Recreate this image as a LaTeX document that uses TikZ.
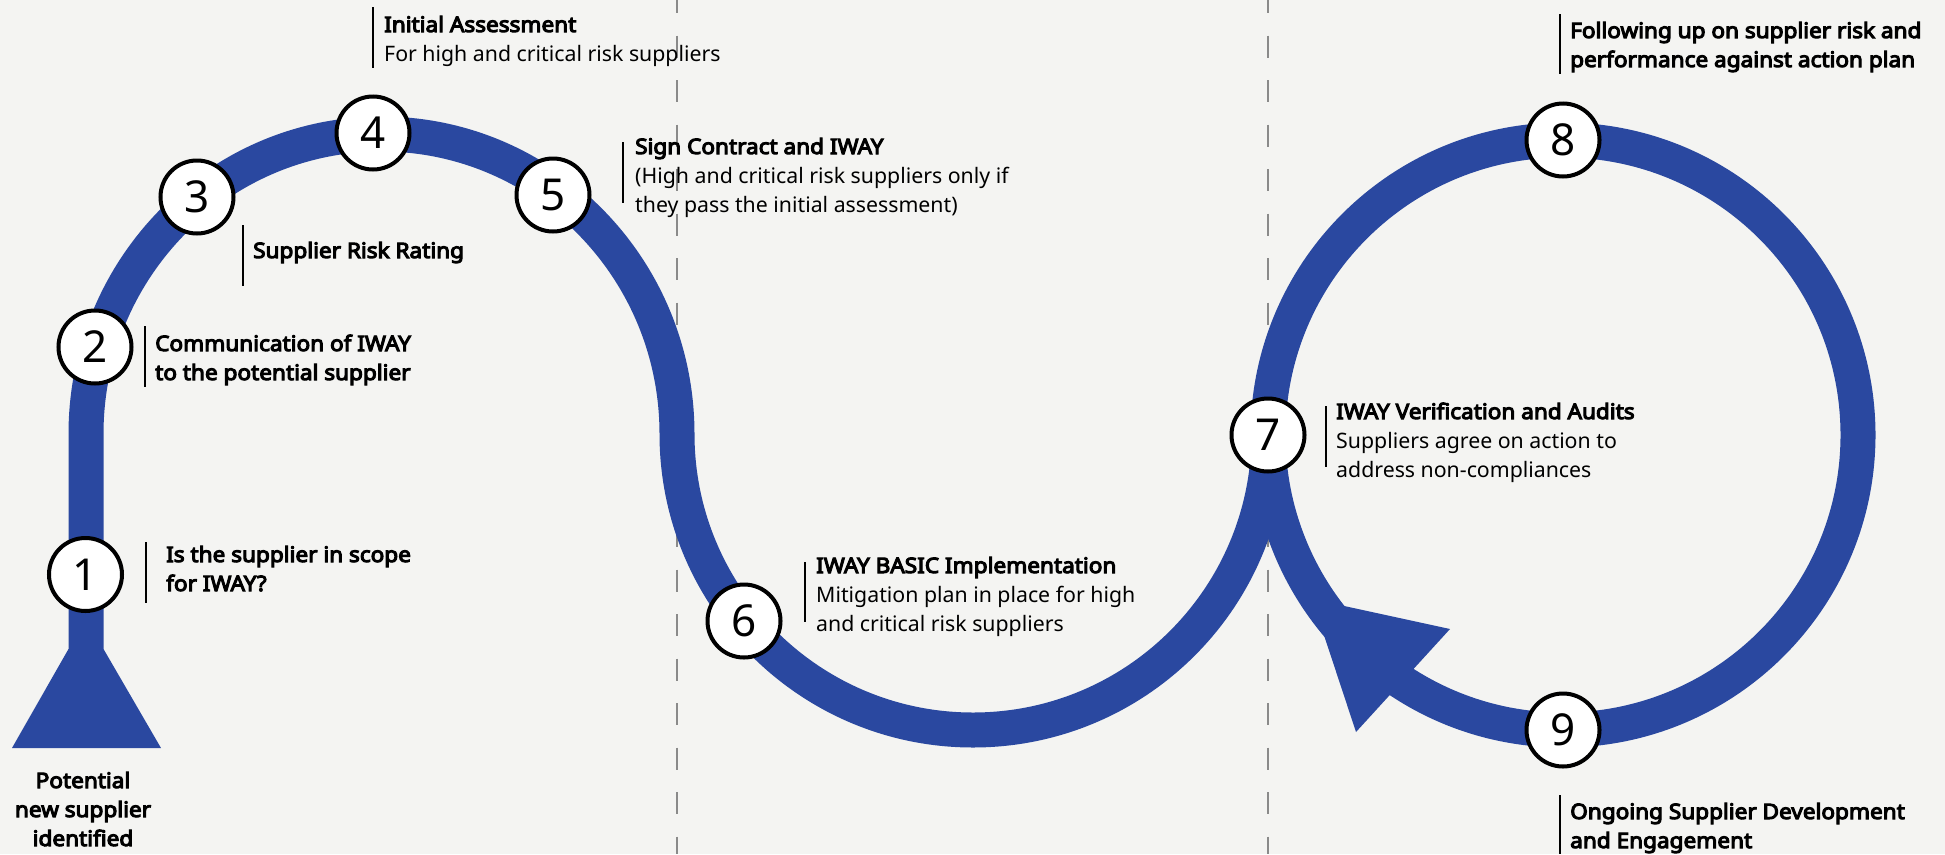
\documentclass[tikz,border=0pt]{standalone}
\usepackage{fontspec}
\setmainfont{Noto Sans}[BoldFont={Noto Sans},BoldFeatures={FakeBold=5,FakeStretch=1.06}]
\definecolor{bandblue}{HTML}{2A48A0}
\definecolor{bgcol}{HTML}{F4F4F2}
\definecolor{dashgray}{HTML}{8A8A8A}
\begin{document}
\begin{tikzpicture}[x=1pt,y=-1pt,
 band/.style={draw=bandblue,line width=35pt},
 num/.style={circle,draw=black,line width=4pt,fill=white,minimum size=73pt,inner sep=0pt,font=\fontsize{44}{44}\selectfont},
 lbl/.style={anchor=base west,inner sep=0pt,font=\fontsize{21.3}{29}\selectfont},
 bar/.style={draw=black,line width=2.5pt},
 guide/.style={draw=dashgray,line width=2pt,dash pattern=on 22pt off 22.5pt,dash phase=9pt}]
\fill[bgcol] (0,0) rectangle (1945,854);
\useasboundingbox (0,0) rectangle (1945,854);
% guide lines
\draw[guide] (677,0) -- (677,854);
\draw[guide] (1268,0) -- (1268,854);
% band
\draw[band] (86,649) -- (86,434) arc[start angle=180,end angle=360,x radius=295.5,y radius=300] arc[start angle=180,end angle=0,radius=296];
\draw[band] (1563,435) circle[radius=295];
\fill[bandblue] (68.5,649) -- (103.5,649) -- (161,748) -- (12,748) -- cycle;
\fill[bandblue] (1312,599) -- (1450,629) -- (1356,732) -- cycle;
% numbered circles
\node[num] (n1) at (85.5,574.5) {1};
\node[num] (n2) at (95,347) {2};
\node[num] (n3) at (197,197) {3};
\node[num] (n4) at (373,133) {4};
\node[num] (n5) at (553,195) {5};
\node[num] (n6) at (744,621) {6};
\node[num] (n7) at (1268,435) {7};
\node[num] (n8) at (1563,140) {8};
\node[num] (n9) at (1563,730) {9};
% labels
\draw[bar] (146,542) -- (146,603);
\node[lbl] (t1) at (166,562) {\begin{tabular}[t]{@{}l@{}}\textbf{Is the supplier in scope}\\\textbf{for IWAY?}\end{tabular}};
\draw[bar] (145,326) -- (145,387);
\node[lbl] (t2) at (155,351) {\begin{tabular}[t]{@{}l@{}}\textbf{Communication of IWAY}\\\textbf{to the potential supplier}\end{tabular}};
\draw[bar] (243,225) -- (243,286);
\node[lbl] (t3) at (253,258) {\textbf{Supplier Risk Rating}};
\draw[bar] (373,7) -- (373,68);
\node[lbl] (t4) at (384,32) {\begin{tabular}[t]{@{}l@{}}\textbf{Initial Assessment}\\For high and critical risk suppliers\end{tabular}};
\draw[bar] (623,142) -- (623,203);
\node[lbl] (t5) at (635,154) {\begin{tabular}[t]{@{}l@{}}\textbf{Sign Contract and IWAY}\\(High and critical risk suppliers only if\\they pass the initial assessment)\end{tabular}};
\draw[bar] (805,562) -- (805,622);
\node[lbl] (t6) at (816,573) {\begin{tabular}[t]{@{}l@{}}\textbf{IWAY BASIC Implementation}\\Mitigation plan in place for high\\and critical risk suppliers\end{tabular}};
\draw[bar] (1326,406) -- (1326,467);
\node[lbl] (t7) at (1336,419) {\begin{tabular}[t]{@{}l@{}}\textbf{IWAY Verification and Audits}\\Suppliers agree on action to\\address non-compliances\end{tabular}};
\draw[bar] (1560,14) -- (1560,74);
\node[lbl] (t8) at (1570,38) {\begin{tabular}[t]{@{}l@{}}\textbf{Following up on supplier risk and}\\\textbf{performance against action plan}\end{tabular}};
\draw[bar] (1560,795) -- (1560,854);
\node[lbl] (t9) at (1570,819) {\begin{tabular}[t]{@{}l@{}}\textbf{Ongoing Supplier Development}\\\textbf{and Engagement}\end{tabular}};
\node[lbl,anchor=base] (t0) at (83,788) {\begin{tabular}[t]{@{}c@{}}\textbf{Potential}\\\textbf{new supplier}\\\textbf{identified}\end{tabular}};
\end{tikzpicture}
\end{document}
